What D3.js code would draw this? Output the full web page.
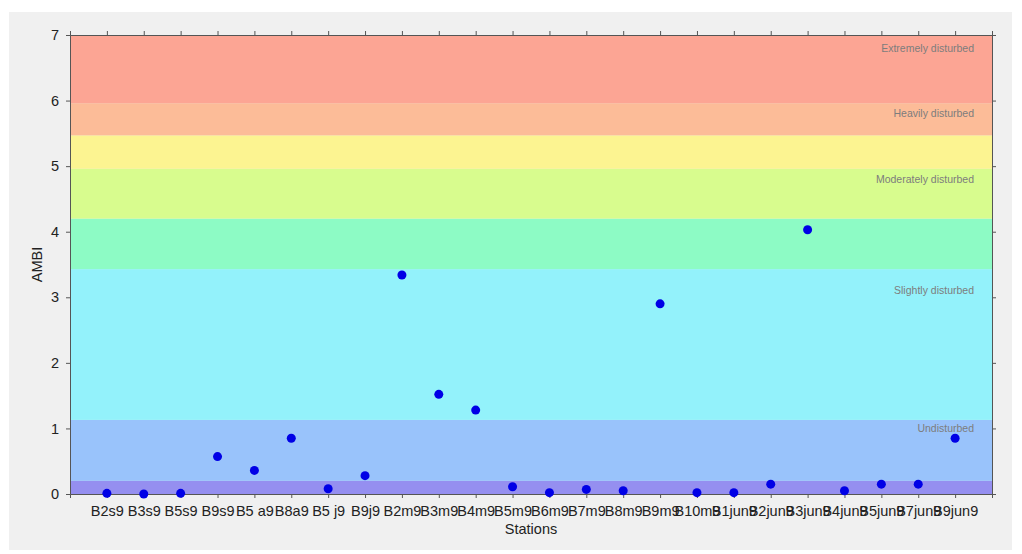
<html>
<head>
    <script src="https://d3js.org/d3.v7.min.js"></script>
    <style>
        body { margin: 0; background: #fff; font-family: "Liberation Sans", Arial, sans-serif; }
        .axis path, .axis line { stroke: #555; }
        .axis text { fill: #222; font-size: 14.5px; font-family: "Liberation Sans", Arial, sans-serif; }
    </style>
</head>
<body>
    <svg width="1022" height="554"></svg>
    <script>
        const width = 1022, height = 554;
        const margin = { top: 35, right: 30, bottom: 60, left: 70 };

        // stations along the x axis
        const stations = ["B2s9", "B3s9", "B5s9", "B9s9", "B5 a9", "B8a9", "B5 j9", "B9j9",
            "B2m9", "B3m9", "B4m9", "B5m9", "B6m9", "B7m9", "B8m9", "B9m9", "B10m9",
            "B1jun9", "B2jun9", "B3jun9", "B4jun9", "B5jun9", "B7jun9", "B9jun9"];
        // AMBI value per station
        const ambi = [0.01, 0.0, 0.01, 0.57, 0.36, 0.85, 0.08, 0.28,
            3.34, 1.52, 1.28, 0.11, 0.02, 0.07, 0.05, 2.90, 0.02,
            0.02, 0.15, 4.03, 0.05, 0.15, 0.15, 0.85];

        // background bands (lower, upper, colour)
        const bandLow = [0, 0.2, 1.13, 3.43, 4.2, 4.96, 5.47, 5.96];
        const bandHigh = [0.2, 1.13, 3.43, 4.2, 4.96, 5.47, 5.96, 7];
        const bandColors = ["#958ff0", "#99c3fb", "#93f2fb", "#8dfbc5", "#d8fc8e", "#fcf491", "#fcbc98", "#fca594"];

        // status labels and their heights
        const statusNames = ["Extremely disturbed", "Heavily disturbed", "Moderately disturbed", "Slightly disturbed", "Undisturbed"];
        const statusY = [6.8, 5.8, 4.8, 3.1, 1.0];

        const yTicks = [0, 1, 2, 3, 4, 5, 6, 7];

        const svg = d3.select("svg");

        svg.append("rect")
           .attr("x", 9).attr("y", 12)
           .attr("width", 1003).attr("height", 538)
           .attr("fill", "#f0f0f0");

        const x = d3.scalePoint()
                    .domain(stations)
                    .range([margin.left, width - margin.right])
                    .padding(1);

        const y = d3.scaleLinear()
                    .domain([0, 7])
                    .range([height - margin.bottom, margin.top]);

        const bands = bandLow.map((lo, i) => ({ lo: lo, hi: bandHigh[i], color: bandColors[i] }));

        svg.selectAll(".band")
           .data(bands)
           .enter().append("rect")
           .attr("class", "band")
           .attr("x", margin.left)
           .attr("width", width - margin.right - margin.left)
           .attr("y", d => y(d.hi))
           .attr("height", d => y(d.lo) - y(d.hi))
           .attr("fill", d => d.color);

        svg.selectAll(".status")
           .data(statusNames)
           .enter().append("text")
           .attr("class", "status")
           .attr("x", width - margin.right - 18)
           .attr("y", (d, i) => y(statusY[i]))
           .attr("dy", "0.35em")
           .attr("text-anchor", "end")
           .attr("font-size", 10.5)
           .attr("fill", "#7d7d7d")
           .text(d => d);

        svg.append("g")
           .attr("class", "axis")
           .attr("transform", `translate(0,${height - margin.bottom})`)
           .call(d3.axisBottom(x).tickSize(4).tickPadding(8));

        svg.append("g")
           .attr("class", "axis")
           .attr("transform", `translate(0,${margin.top})`)
           .call(d3.axisTop(x).tickSize(4).tickFormat(""));

        svg.append("g")
           .attr("class", "axis")
           .attr("transform", `translate(${margin.left},0)`)
           .call(d3.axisLeft(y).tickValues(yTicks).tickFormat(d3.format("d")).tickSize(4).tickPadding(7));

        svg.append("g")
           .attr("class", "axis")
           .attr("transform", `translate(${width - margin.right},0)`)
           .call(d3.axisRight(y).tickValues(yTicks).tickSize(4).tickFormat(""));

        svg.selectAll(".dot")
           .data(stations)
           .enter().append("circle")
           .attr("class", "dot")
           .attr("cx", d => x(d))
           .attr("cy", (d, i) => y(ambi[i]))
           .attr("r", 4.5)
           .attr("fill", "#0000e6");

        svg.append("text")
           .attr("x", (margin.left + width - margin.right) / 2)
           .attr("y", 534)
           .attr("text-anchor", "middle")
           .attr("font-size", 14.5)
           .attr("fill", "#222")
           .text("Stations");

        svg.append("text")
           .attr("transform", `translate(42,${y(3.5)}) rotate(-90)`)
           .attr("text-anchor", "middle")
           .attr("font-size", 14.5)
           .attr("fill", "#222")
           .text("AMBI");
    </script>
</body>
</html>
